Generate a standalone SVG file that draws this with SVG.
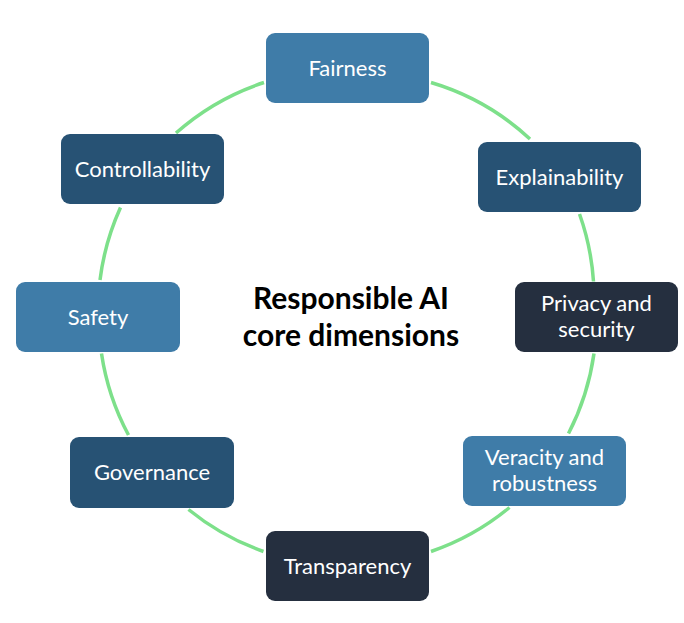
<svg xmlns="http://www.w3.org/2000/svg" width="684" height="623" viewBox="0 0 684 623">
<style>
.arc{fill:none;stroke:#7DE08A;stroke-width:3.5}
.box{stroke:none}
.m{fill:#3F7CA8}
.d{fill:#275274}
.k{fill:#252F3F}
.lbl{font-family:Lato,"Open Sans",sans-serif;font-size:22px;fill:#ffffff;text-anchor:middle}
.title{font-family:Lato,"Open Sans",sans-serif;font-size:30px;font-weight:bold;fill:#000000;text-anchor:middle}
</style>
<rect width="684" height="623" fill="#ffffff"/>
<g id="connectors">
<path class="arc" d="M431,82.5 A250,250 0 0 1 530,139"/>
<path class="arc" d="M579.5,214 A250,250 0 0 1 593.5,281.5"/>
<path class="arc" d="M594,353.5 A250,250 0 0 1 568.5,433.5"/>
<path class="arc" d="M509.5,507.5 A250,250 0 0 1 431,551.5"/>
<path class="arc" d="M263.5,551.5 A250,250 0 0 1 188.5,509.5"/>
<path class="arc" d="M128.5,435 A250,250 0 0 1 101.5,353.5"/>
<path class="arc" d="M100,280 A250,250 0 0 1 120.5,207.5"/>
<path class="arc" d="M176,133 A250,250 0 0 1 264,82.5"/>
</g>
<g id="fairness">
<rect class="box m" x="266" y="33" width="163" height="70" rx="9"/>
<text class="lbl" x="347.5" y="75.5">Fairness</text>
</g>
<g id="explainability">
<rect class="box d" x="478" y="142" width="163" height="70" rx="9"/>
<text class="lbl" x="559.5" y="184.5">Explainability</text>
</g>
<g id="privacy">
<rect class="box k" x="515" y="282" width="163" height="70" rx="9"/>
<text class="lbl" x="596.5" y="311">Privacy and</text>
<text class="lbl" x="596.5" y="337">security</text>
</g>
<g id="veracity">
<rect class="box m" x="463" y="436" width="163" height="70" rx="9"/>
<text class="lbl" x="544.5" y="464.5">Veracity and</text>
<text class="lbl" x="544.5" y="490.5">robustness</text>
</g>
<g id="transparency">
<rect class="box k" x="266" y="531" width="163" height="70" rx="9"/>
<text class="lbl" x="347.5" y="573.5">Transparency</text>
</g>
<g id="governance">
<rect class="box d" x="70" y="437" width="164" height="71" rx="9"/>
<text class="lbl" x="152" y="480">Governance</text>
</g>
<g id="safety">
<rect class="box m" x="16" y="282" width="164" height="70" rx="9"/>
<text class="lbl" x="98" y="324.5">Safety</text>
</g>
<g id="controllability">
<rect class="box d" x="61" y="134" width="163" height="70" rx="9"/>
<text class="lbl" x="142.5" y="176.5">Controllability</text>
</g>
<g id="title">
<text class="title" x="351" y="309">Responsible AI</text>
<text class="title" x="351" y="346">core dimensions</text>
</g>
</svg>
